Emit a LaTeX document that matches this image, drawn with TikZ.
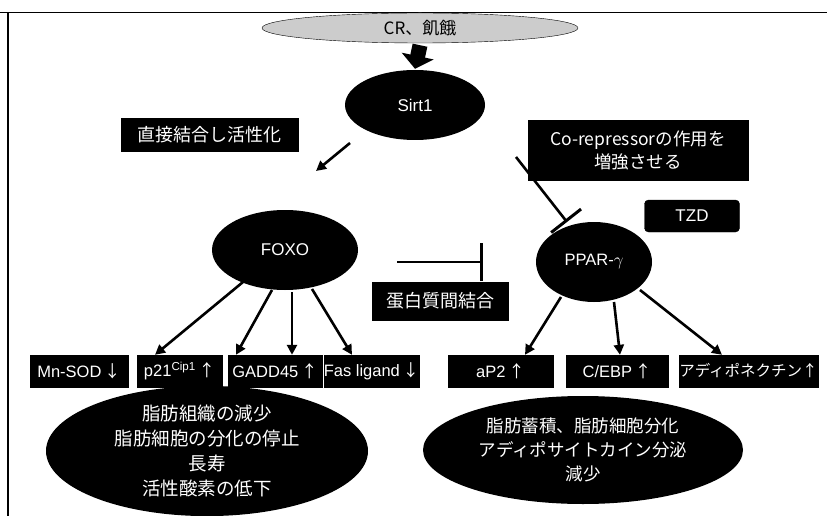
\documentclass[tikz,border=0pt]{standalone}
\usepackage{fontspec}
\setmainfont{Liberation Sans}
\newfontfamily\jp{Noto Sans CJK JP}
\usetikzlibrary{arrows.meta,shapes.geometric}
\newcommand{\up}{{\jp ↑}}
\newcommand{\dn}{{\jp ↓}}
\begin{document}
\begin{tikzpicture}[x=1pt,y=-1pt,
  blackell/.style={ellipse,fill=black,text=white,inner sep=0pt},
  blackbox/.style={rectangle,fill=black,draw=black,text=white,inner sep=0pt,font=\fontsize{16.5}{18}\selectfont},
  jpbox/.style={rectangle,fill=black,draw=black,text=white,inner sep=0pt,font=\jp\fontsize{18}{22}\selectfont,align=center},
  arr/.style={line width=2.6pt,-{Triangle[length=10pt,width=10pt]}},
  tbar/.style={line width=2.6pt,-{Bar[width=38pt,line width=3pt]}}]
\useasboundingbox (0,0) rectangle (827,516);
\fill[white] (0,0) rectangle (827,516);
\draw[line width=1.3pt] (0,12.5) -- (827,12.5);
\draw[line width=1.3pt] (8,12.5) -- (8,516);

% top
\node[ellipse,draw=black,fill=gray!40,minimum width=316pt,minimum height=30pt,inner sep=0pt,font=\jp\fontsize{17}{19}\selectfont] (cr) at (420,28) {CR、飢餓};
\node[blackell,minimum width=140pt,minimum height=70pt,font=\fontsize{17}{19}\selectfont] (sirt) at (415,105) {Sirt1};
\draw[line width=15pt,-{Triangle[length=13pt,width=32pt]}] ([yshift=-2pt]cr.south) -- ([yshift=1pt]sirt.north);

\node[jpbox,minimum width=177pt,minimum height=33pt] (direct) at (209.5,135) {直接結合し活性化};
\node[jpbox,minimum width=220pt,minimum height=60pt,font=\jp\fontsize{17.5}{23}\selectfont] (corep) at (638,150) {Co-repressorの作用を\\増強させる};

\node[blackell,minimum width=146pt,minimum height=80pt,font=\fontsize{17}{19}\selectfont] (foxo) at (285,250) {FOXO};
\node[blackell,minimum width=116pt,minimum height=80pt,font=\fontsize{16.5}{18}\selectfont] (ppar) at (594,262) {PPAR-$\gamma$};
\node[blackbox,rounded corners=4pt,minimum width=95pt,minimum height=32pt,font=\fontsize{17}{19}\selectfont] (tzd) at (692,216) {TZD};
\node[jpbox,minimum width=136pt,minimum height=38pt] (ppi) at (440,301) {蛋白質間結合};

% Sirt1 connectors
\coordinate (s1) at (350,143);
\coordinate (f1) at (316,171);
\draw[arr] (s1) -- (f1);
\coordinate (s2) at (516,157);
\coordinate (p2) at (567,222);
\draw[tbar] (s2) -- (p2);
% FOXO -| PPAR
\coordinate (fx) at (397,262);
\coordinate (fb) at (483,262);
\draw[tbar] (fx) -- (fb);

% lower boxes
\node[blackbox,minimum width=98pt,minimum height=32pt] (mnsod) at (79,371) {Mn-SOD\,\dn};
\node[blackbox,minimum width=85pt,minimum height=32pt] (p21) at (179.5,371) {p21\textsuperscript{Cip1}\,\up};
\node[blackbox,minimum width=94pt,minimum height=32pt] (gadd) at (275,371) {GADD45\,\up};
\node[blackbox,minimum width=93pt,minimum height=32pt] (fas) at (371.5,371) {Fas ligand\,\dn};
\node[blackbox,minimum width=105pt,minimum height=32pt] (ap2) at (500.5,371) {aP2\,\up};
\node[blackbox,minimum width=102pt,minimum height=32pt] (cebp) at (617,371) {C/EBP\,\up};
\node[jpbox,minimum width=139pt,minimum height=32pt,font=\jp\fontsize{15.5}{17}\selectfont] (adipo) at (748.5,371) {アディポネクチン↑};

% FOXO arrows
\coordinate (fo1) at (243,282);
\coordinate (fo2) at (272,290);
\coordinate (fo3) at (292,292);
\coordinate (fo4) at (312,289);
\draw[arr] (fo1) -- (mnsod.north -| 155,0);
\draw[arr] (fo2) -- (p21.north -| 236,0);
\draw[arr] (fo3) -- (gadd.north -| 292,0);
\draw[arr] (fo4) -- (fas.north -| 352,0);
% PPAR arrows
\coordinate (pp1) at (561,297);
\coordinate (pp2) at (614,302);
\coordinate (pp3) at (640,290);
\draw[arr] (pp1) -- (ap2.north -| 525,0);
\draw[arr] (pp2) -- (cebp.north -| 620,0);
\draw[arr] (pp3) -- (adipo.north -| 722,0);

% result ellipses
\node[blackell,minimum width=322pt,minimum height=110pt,align=center,font=\jp\fontsize{18.5}{25}\selectfont] (resl) at (207,451) {脂肪組織の減少\\脂肪細胞の分化の停止\\長寿\\活性酸素の低下};
\node[blackell,minimum width=320pt,minimum height=108pt,align=center,font=\jp\fontsize{17.5}{24}\selectfont] (resr) at (583,450) {脂肪蓄積、脂肪細胞分化\\アディポサイトカイン分泌\\減少};
\end{tikzpicture}
\end{document}
